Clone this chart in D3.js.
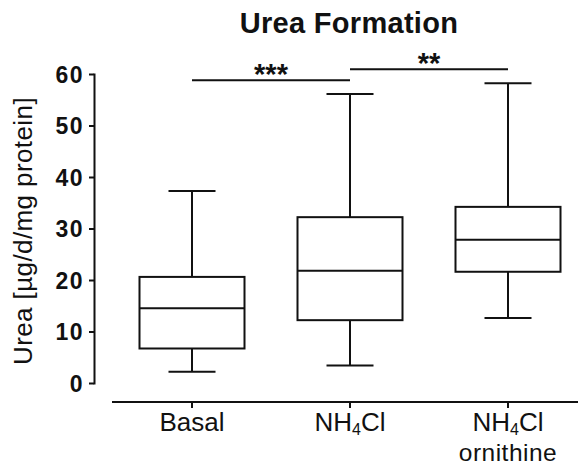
<!DOCTYPE html>
<html>
<head>
<meta charset="utf-8">
<title>Urea Formation</title>
<style>
body { margin: 0; background: #fff; }
svg text { font-family: "Liberation Sans", Arial, sans-serif; fill: #111; }
.box rect, .box line { stroke: #111; stroke-width: 2px; fill: none; }
.axis path, .axis line { stroke: #111; stroke-width: 2px; }
</style>
</head>
<body>
<svg width="578" height="466"></svg>
<script src="https://d3js.org/d3.v7.min.js"></script>
<script>
// values
var groups = ["Basal", "NH4Cl", "NH4Cl ornithine"]
var minVals = [2.2, 3.4, 12.6]
var q1Vals = [6.7, 12.2, 21.6]
var medVals = [14.5, 21.8, 27.8]
var q3Vals = [20.6, 32.2, 34.2]
var maxVals = [37.3, 56.1, 58.2]
var yTicks = [0, 10, 20, 30, 40, 50, 60]

var sigFrom = ["Basal", "NH4Cl"]
var sigTo = ["NH4Cl", "NH4Cl ornithine"]
var sigLevel = [58.8, 60.9]
var sigLabel = ["***", "**"]

var svg = d3.select("svg")

var y = d3.scaleLinear().domain([0, 60]).range([383, 74])
var x = d3.scalePoint().domain(groups).range([192, 508])

var boxW = 105, capW = 47

// title
svg.append("text")
  .attr("x", 349).attr("y", 33)
  .attr("text-anchor", "middle")
  .style("font-size", "29px").style("font-weight", "bold")
  .style("letter-spacing", "0.3px")
  .text("Urea Formation")

// y axis
var yAxis = svg.append("g")
  .attr("class", "axis")
  .attr("transform", "translate(94,0)")
  .call(d3.axisLeft(y).tickValues(yTicks).tickSize(5).tickSizeOuter(0).tickPadding(5))
yAxis.select(".domain").attr("stroke-linecap", "square")
yAxis.selectAll("text")
  .style("font-size", "23px").style("font-weight", "bold")
  .style("letter-spacing", "1.5px")
  .attr("dy", "0.36em")

// y label
svg.append("text")
  .attr("transform", "translate(32," + ((97 + 365) / 2) + ") rotate(-90)")
  .attr("text-anchor", "middle")
  .style("font-size", "26px")
  .style("letter-spacing", "0.4px")
  .text("Urea [µg/d/mg protein]")

// x axis, detached below the plot
var xAxis = svg.append("g")
  .attr("class", "axis")
  .attr("transform", "translate(0,402)")
xAxis.append("line").attr("x1", 112).attr("x2", 578).attr("y1", 0).attr("y2", 0)
xAxis.selectAll("line.tick")
  .data(groups)
  .enter().append("line")
  .attr("class", "tick")
  .attr("x1", function(d) { return x(d) }).attr("x2", function(d) { return x(d) })
  .attr("y1", 0).attr("y2", 6)

function nh4(sel) {
  sel.append("tspan").text("NH")
  sel.append("tspan").attr("dy", 3.5).style("font-size", "16px").text("4")
  sel.append("tspan").attr("dy", -3.5).text("Cl")
}

groups.forEach(function(g) {
  var t = svg.append("text")
    .attr("x", x(g)).attr("y", 431)
    .attr("text-anchor", "middle")
    .style("font-size", "26px")
  if (g == "Basal") {
    t.text(g)
  } else {
    nh4(t)
  }
  if (g == "NH4Cl ornithine") {
    svg.append("text")
      .attr("x", x(g)).attr("y", 460.5)
      .attr("text-anchor", "middle")
      .style("font-size", "24.5px")
      .style("letter-spacing", "0.5px")
      .text("ornithine")
  }
})

// boxes
var box = svg.append("g").attr("class", "box")
  .selectAll("g")
  .data(groups)
  .enter().append("g")

box.append("line")
  .attr("x1", function(d) { return x(d) }).attr("x2", function(d) { return x(d) })
  .attr("y1", function(d, i) { return y(maxVals[i]) })
  .attr("y2", function(d, i) { return y(q3Vals[i]) })
box.append("line")
  .attr("x1", function(d) { return x(d) }).attr("x2", function(d) { return x(d) })
  .attr("y1", function(d, i) { return y(q1Vals[i]) })
  .attr("y2", function(d, i) { return y(minVals[i]) })
box.append("line")
  .attr("x1", function(d) { return x(d) - capW / 2 }).attr("x2", function(d) { return x(d) + capW / 2 })
  .attr("y1", function(d, i) { return y(maxVals[i]) })
  .attr("y2", function(d, i) { return y(maxVals[i]) })
box.append("line")
  .attr("x1", function(d) { return x(d) - capW / 2 }).attr("x2", function(d) { return x(d) + capW / 2 })
  .attr("y1", function(d, i) { return y(minVals[i]) })
  .attr("y2", function(d, i) { return y(minVals[i]) })
box.append("rect")
  .attr("x", function(d) { return x(d) - boxW / 2 })
  .attr("width", boxW)
  .attr("y", function(d, i) { return y(q3Vals[i]) })
  .attr("height", function(d, i) { return y(q1Vals[i]) - y(q3Vals[i]) })
box.append("line")
  .attr("x1", function(d) { return x(d) - boxW / 2 }).attr("x2", function(d) { return x(d) + boxW / 2 })
  .attr("y1", function(d, i) { return y(medVals[i]) })
  .attr("y2", function(d, i) { return y(medVals[i]) })

// significance bars
sigLabel.forEach(function(lab, i) {
  var x1 = x(sigFrom[i]), x2 = x(sigTo[i]), yy = y(sigLevel[i])
  svg.append("line")
    .attr("x1", x1).attr("x2", x2).attr("y1", yy).attr("y2", yy)
    .attr("stroke", "#111").attr("stroke-width", 2)
  svg.append("text")
    .attr("x", (x1 + x2) / 2).attr("y", yy + 4)
    .attr("text-anchor", "middle")
    .style("font-size", "29px").style("font-weight", "bold")
    .text(lab)
})
</script>
</body>
</html>
